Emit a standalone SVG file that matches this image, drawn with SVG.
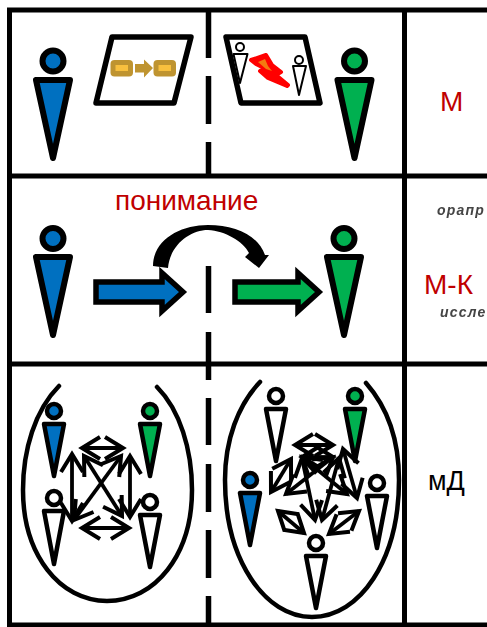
<svg xmlns="http://www.w3.org/2000/svg" width="487" height="627" viewBox="0 0 487 627">
<style>
.grid{fill:none;stroke:#000;stroke-width:5}
.dash{fill:none;stroke:#000;stroke-width:5.5}
.big{stroke:#000;stroke-width:6;stroke-linejoin:round}
.mid{stroke:#000;stroke-width:4.5;stroke-linejoin:round}
.small{stroke:#000;stroke-width:2;stroke-linejoin:round;fill:#fff}
.blue{fill:#0070C0}.green{fill:#00B050}.white{fill:#fff}
.panel{fill:#fff;stroke:#000;stroke-width:5.5;stroke-linejoin:round}
.oval{fill:none;stroke:#000;stroke-width:4.5;stroke-linecap:round}
.flow{fill:none;stroke:#000;stroke-width:3.800;marker-start:url(#open);marker-end:url(#open)}
.fat{stroke:#000;stroke-width:5.5;stroke-miterlimit:10}
.gold{fill:#BF9430}.amber{fill:#F8C03E}
text{font-family:"Liberation Sans",Arial,sans-serif}
.red{fill:#C00000}
.blur{font-style:italic;font-weight:bold;font-size:14px;fill:#444;filter:url(#soft);letter-spacing:1.2px}
</style>
<defs>
<marker id="open" markerUnits="userSpaceOnUse" markerWidth="32" markerHeight="32" refX="22" refY="14" orient="auto-start-reverse" overflow="visible">
<path d="M4 3 L22 14 L4 25" fill="none" stroke="#000" stroke-width="4"/>
</marker>
<filter id="soft" x="-10%" y="-30%" width="120%" height="160%"><feGaussianBlur stdDeviation="0.7"/></filter>
</defs>

<g id="grid">
<path class="grid" d="M9.5 10H487M9.5 176H487M9.5 364H487M9.5 625H487M9.5 7.500V627M404.500 10V627"/>
<path class="dash" d="M208.500 10V58M208.500 76V124M208.500 142V176M208.500 266V313M208.500 332V380M208.500 398V445M208.500 464V512M208.500 530V578M208.500 596V625"/>
</g>

<g id="person-blue-1"><circle class="big blue" cx="53" cy="61" r="10.500"/><polygon class="big blue" points="36,80 70,80 53,158"/></g>
<g id="panel-process">
<polygon class="panel" points="112,37 191,37 174,103 96,103"/>
<rect class="gold" x="110.500" y="60" width="22.500" height="16.500" rx="4"/><rect class="amber" x="115.500" y="65" width="12.500" height="6"/>
<polygon class="gold" points="135,64 144,64 144,59.500 153,68 144,77.500 144,72.500 135,72.500"/>
<rect class="gold" x="153.500" y="60" width="22.500" height="16.500" rx="4"/><rect class="amber" x="158.500" y="65" width="12.500" height="6"/>
</g>
<g id="panel-conflict">
<polygon class="panel" points="226,37 305,37 320,103 241,103"/>
<circle class="small" cx="240" cy="47" r="4"/><polygon class="small" points="233.500,54 247.500,54 240,83"/>
<circle class="small" cx="299" cy="60" r="4"/><polygon class="small" points="293,66 306,66 299,95"/>
<polygon fill="#F00" stroke="#F00" stroke-width="4" stroke-linejoin="round" points="251,60 266,55 272,65 281,72 276,75 288,85 287,86 268,78 260,71 264,68 256,64"/>
<polygon fill="#F47A10" points="258,62 265,59 268,66 272,71 266,69"/>
</g>
<g id="person-green-1"><circle class="big green" cx="354.500" cy="61" r="10.500"/><polygon class="big green" points="337.500,80 371.500,80 354.500,158"/></g>
<g id="label-m"><text class="red" x="440" y="111" font-size="28">М</text></g>

<g id="person-blue-2"><circle class="big blue" cx="53" cy="238.500" r="10.500"/><polygon class="big blue" points="36,257 70,257 53,335"/></g>
<g id="person-green-2"><circle class="big green" cx="344" cy="238.500" r="10.500"/><polygon class="big green" points="327,257 361,257 344,335"/></g>
<g id="label-understanding"><text class="red" x="115" y="210" font-size="28">понимание</text></g>
<g id="label-mk">
<text class="red" x="424" y="294" font-size="28">М-К</text>
<text class="blur" x="437" y="215">орапр</text>
<text class="blur" x="440" y="317">иссле</text>
</g>

<g id="connectors">
<polygon class="fat blue" points="96,282 162,282 162,273 183,292 162,311 162,302 96,302"/>
<polygon class="fat green" points="235,282 298,282 298,273 319,292 298,311 298,302 235,302"/>
<path d="M153 266C153 240 180 225 208 225C235 225 258 235 265 255L269 255L259 268L245 257L249 253C243 241 225 231 208 230C190 230 170 245 168 268Z" fill="#000"/>
<g id="flows-group-a">
<path class="flow" d="M82 448H123"/>
<path class="flow" d="M82 528H129"/>
<path class="flow" d="M72 454V521"/>
<path class="flow" d="M130 456V517"/>
<path class="flow" d="M84 456L122 516"/>
<path class="flow" d="M121 456L74 520"/>
</g>
<g id="flows-group-b">
<path class="flow" d="M295 445H333"/>
<path class="flow" d="M278 511L304 533"/>
<path class="flow" d="M359 511L329 534"/>
<path class="flow" d="M271 492L291 459"/>
<path class="flow" d="M343 449L357 498"/>
<path class="flow" d="M302 458L315 520"/>
<path class="flow" d="M339 458L322 520"/>
<path class="flow" d="M286 494L333 457"/>
<path class="flow" d="M347 494L302 457"/>
<path class="flow" d="M302 457H333"/>
</g>
</g>

<g id="group-a">
<path class="oval" d="M59 386C35 410 23 450 23 490C23 555 60 601 107 601C155 601 192 555 192 490C192 450 180 410 157 387"/>
<g id="a-blue"><circle class="mid blue" cx="54" cy="411" r="7"/><polygon class="mid blue" points="44,424 64,424 54,476"/></g>
<g id="a-green"><circle class="mid green" cx="150" cy="411" r="7"/><polygon class="mid green" points="140,424 160,424 150,476"/></g>
<g id="a-white-1"><circle class="mid white" cx="54" cy="498" r="7"/><polygon class="mid white" points="44,511 64,511 54,564"/></g>
<g id="a-white-2"><circle class="mid white" cx="150" cy="502" r="7"/><polygon class="mid white" points="140,515 160,515 150,567"/></g>
</g>
<g id="group-b">
<path class="oval" d="M260 382C238 405 225 440 225 480C225 560 265 617 312 617C360 617 399 560 399 480C399 440 388 408 366 383"/>
<g id="b-white-1"><circle class="mid white" cx="276" cy="396" r="7"/><polygon class="mid white" points="266,409 286,409 276,461"/></g>
<g id="b-green"><circle class="mid green" cx="355" cy="396" r="7"/><polygon class="mid green" points="345,409 365,409 355,461"/></g>
<g id="b-blue"><circle class="mid blue" cx="250" cy="480" r="7"/><polygon class="mid blue" points="240,493 260,493 250,545"/></g>
<g id="b-white-2"><circle class="mid white" cx="377" cy="483" r="7"/><polygon class="mid white" points="367,496 387,496 377,548"/></g>
<g id="b-white-3"><circle class="mid white" cx="316" cy="543" r="7"/><polygon class="mid white" points="306,556 326,556 316,608"/></g>
</g>
<g id="label-md"><text x="428" y="490" font-size="27" fill="#000">мД</text></g>
</svg>
